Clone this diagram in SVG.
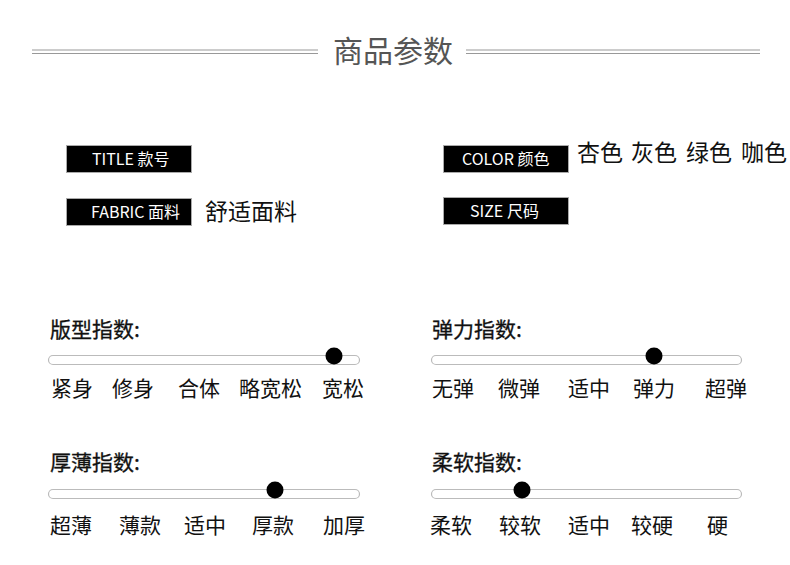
<svg xmlns="http://www.w3.org/2000/svg" width="790" height="565" viewBox="0 0 790 565">
<style>
.cjk{font-family:"Noto Sans CJK SC","Noto Sans",sans-serif}
.ttl{font-size:30px;fill:#555}
.box{fill:#000;stroke:#aaa;stroke-width:1}
.btxt{font-size:16px;fill:#fff}
.val{font-size:23px;fill:#111}
.h{font-size:21px;fill:#111;stroke:#111;stroke-width:0.3}
.lab{font-size:21px;fill:#111}
.track{fill:#fff;stroke:#bbb;stroke-width:1.2}
.dot{fill:#000}
.rule{stroke:#999;stroke-width:1.2}
</style>
<rect width="790" height="565" fill="#fff"/>
<g id="header">
<line class="rule" x1="32" y1="50" x2="318" y2="50"/>
<line class="rule" x1="32" y1="53.5" x2="318" y2="53.5"/>
<line class="rule" x1="466" y1="50" x2="760" y2="50"/>
<line class="rule" x1="466" y1="53.5" x2="760" y2="53.5"/>
<text class="cjk ttl" x="393" y="62" text-anchor="middle">商品参数</text>
</g>
<g id="title-box">
<rect class="box" x="66.5" y="145.5" width="125" height="27"/>
<text class="cjk btxt" x="92" y="165">TITLE 款号</text>
</g>
<g id="fabric-box">
<rect class="box" x="66.5" y="198.5" width="125" height="27"/>
<text class="cjk btxt" x="91" y="218">FABRIC 面料</text>
<text class="cjk val" x="205" y="220">舒适面料</text>
</g>
<g id="color-box">
<rect class="box" x="443.5" y="145.5" width="125" height="27"/>
<text class="cjk btxt" x="462" y="165">COLOR 颜色</text>
<text class="cjk val" y="161"><tspan x="577">杏色</tspan><tspan x="631">灰色</tspan><tspan x="686">绿色</tspan><tspan x="741">咖色</tspan></text>
</g>
<g id="size-box">
<rect class="box" x="443.5" y="197.5" width="125" height="27"/>
<text class="cjk btxt" x="470" y="217">SIZE 尺码</text>
</g>
<g id="slider-fit">
<text class="cjk h" x="50" y="337">版型指数:</text>
<rect class="track" x="48.5" y="355.5" width="311" height="9" rx="4.5"/>
<circle class="dot" cx="334" cy="356" r="8.5"/>
<text class="cjk lab" y="396"><tspan x="51">紧身</tspan><tspan x="112">修身</tspan><tspan x="178">合体</tspan><tspan x="239">略宽松</tspan><tspan x="322">宽松</tspan></text>
</g>
<g id="slider-elastic">
<text class="cjk h" x="432" y="337">弹力指数:</text>
<rect class="track" x="431.5" y="355.5" width="310" height="9" rx="4.5"/>
<circle class="dot" cx="654" cy="356" r="8.5"/>
<text class="cjk lab" y="396"><tspan x="432">无弹</tspan><tspan x="498">微弹</tspan><tspan x="568">适中</tspan><tspan x="633">弹力</tspan><tspan x="705">超弹</tspan></text>
</g>
<g id="slider-thickness">
<text class="cjk h" x="50" y="470">厚薄指数:</text>
<rect class="track" x="48.5" y="489.5" width="311" height="9" rx="4.5"/>
<circle class="dot" cx="275" cy="490" r="8.5"/>
<text class="cjk lab" y="533"><tspan x="50">超薄</tspan><tspan x="119">薄款</tspan><tspan x="184">适中</tspan><tspan x="252">厚款</tspan><tspan x="323">加厚</tspan></text>
</g>
<g id="slider-softness">
<text class="cjk h" x="432" y="470">柔软指数:</text>
<rect class="track" x="431.5" y="489.5" width="310" height="9" rx="4.5"/>
<circle class="dot" cx="522" cy="490" r="8.5"/>
<text class="cjk lab" y="533"><tspan x="430">柔软</tspan><tspan x="499">较软</tspan><tspan x="568">适中</tspan><tspan x="631">较硬</tspan><tspan x="707">硬</tspan></text>
</g>
</svg>
